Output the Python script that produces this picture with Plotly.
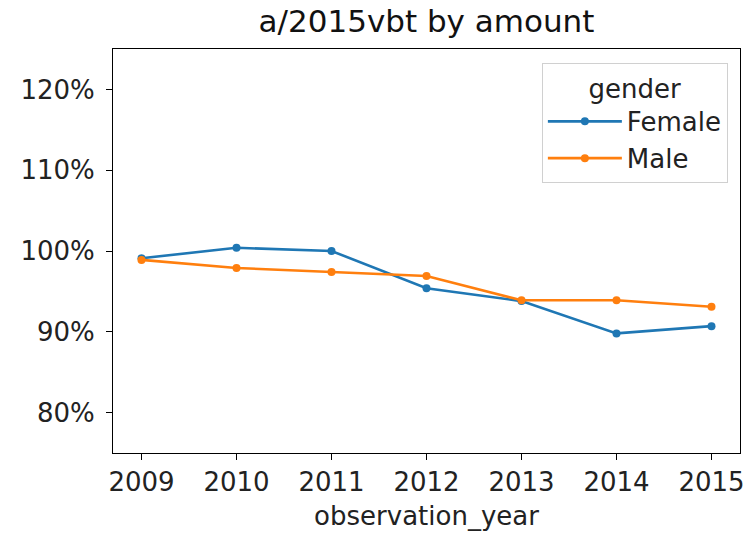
import plotly.graph_objects as go

years = [2009, 2010, 2011, 2012, 2013, 2014, 2015]
female = [99.1, 100.4, 100.0, 95.4, 93.8, 89.8, 90.7]
male = [98.9, 97.9, 97.4, 96.9, 93.9, 93.9, 93.1]
y_ticks = [80, 90, 100, 110, 120]
y_labels = [f"{v}%" for v in y_ticks]

font = "DejaVu Sans, Liberation Sans, sans-serif"

fig = go.Figure()
fig.add_trace(go.Scatter(x=years, y=female, name="Female", mode="lines+markers",
                         line=dict(color="#1f77b4", width=2.6),
                         marker=dict(size=8, color="#1f77b4")))
fig.add_trace(go.Scatter(x=years, y=male, name="Male", mode="lines+markers",
                         line=dict(color="#ff7f0e", width=2.6),
                         marker=dict(size=8, color="#ff7f0e")))

# page body adds an 8px offset, so the figure is a bit smaller than the window
fig.update_layout(
    width=748, height=529,
    margin=dict(l=102, r=13, t=41, b=84),
    paper_bgcolor="white", plot_bgcolor="white",
    font=dict(family=font, size=26, color="#222"),
    title=dict(text="a/2015vbt by amount", x=0.5, xref="paper", xanchor="center",
               y=0.996, yanchor="top", font=dict(size=31, color="#111")),
    legend=dict(x=0.684, y=0.965, xanchor="left", yanchor="top",
                bordercolor="#d0d0d0", borderwidth=1, bgcolor="white",
                title=dict(text="gender", side="top center", font=dict(size=26)),
                font=dict(size=26), itemwidth=74),
    showlegend=True,
)
fig.update_xaxes(range=[2008.7, 2015.3], tickvals=years, ticks="outside",
                 ticklen=6, tickcolor="black", showline=True, linecolor="black",
                 mirror=True, showgrid=False, zeroline=False,
                 title=dict(text="observation_year", font=dict(size=26), standoff=10))
fig.update_yaxes(range=[75, 125], tickvals=y_ticks, ticktext=y_labels, ticks="outside",
                 ticklen=6, tickcolor="black", showline=True, linecolor="black",
                 mirror=True, showgrid=False, zeroline=False, ticklabelstandoff=6)

fig.write_html("out.html")
